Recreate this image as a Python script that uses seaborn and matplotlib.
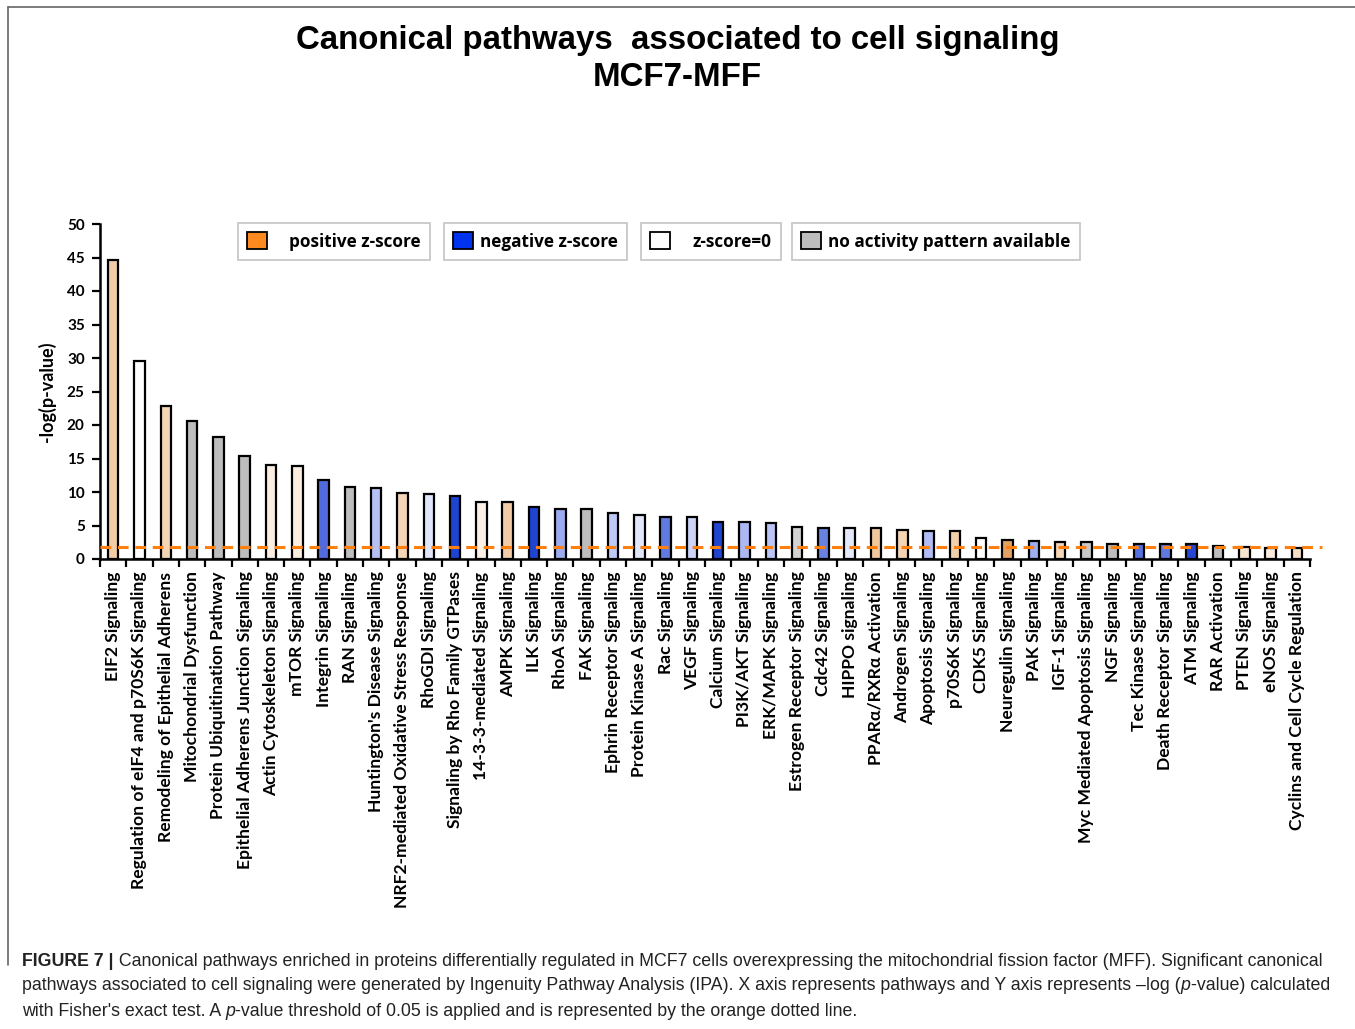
import matplotlib
matplotlib.use("Agg")
import matplotlib.pyplot as plt
from matplotlib.patches import Patch
from matplotlib.lines import Line2D
import numpy as np
import pandas as pd
import seaborn as sns

# Data
pathways = [
    "EIF2 Signaling", "Regulation of eIF4 and p70S6K Signaling",
    "Remodeling of Epithelial Adherens", "Mitochondrial Dysfunction",
    "Protein Ubiquitination Pathway", "Epithelial Adherens Junction Signaling",
    "Actin Cytoskeleton Signaling", "mTOR Signaling", "Integrin Signaling",
    "RAN Signaling", "Huntington's Disease Signaling",
    "NRF2-mediated Oxidative Stress Response", "RhoGDI Signaling",
    "Signaling by Rho Family GTPases", "14-3-3-mediated Signaling",
    "AMPK Signaling", "ILK Signaling", "RhoA Signaling", "FAK Signaling",
    "Ephrin Receptor Signaling", "Protein Kinase A Signaling", "Rac Signaling",
    "VEGF Signaling", "Calcium Signaling", "PI3K/AKT Signaling",
    "ERK/MAPK Signaling", "Estrogen Receptor Signaling", "Cdc42 Signaling",
    "HIPPO signaling", "PPARα/RXRα Activation", "Androgen Signaling",
    "Apoptosis Signaling", "p70S6K Signaling", "CDK5 Signaling",
    "Neuregulin Signaling", "PAK Signaling", "IGF-1 Signaling",
    "Myc Mediated Apoptosis Signaling", "NGF Signaling", "Tec Kinase Signaling",
    "Death Receptor Signaling", "ATM Signaling", "RAR Activation",
    "PTEN Signaling", "eNOS Signaling", "Cyclins and Cell Cycle Regulation",
]
neg_log_p = [
    44.6, 29.6, 22.9, 20.6, 18.2, 15.4, 14.1, 13.9, 11.8, 10.7,
    10.6, 9.9, 9.7, 9.4, 8.5, 8.5, 7.7, 7.5, 7.5, 6.8,
    6.5, 6.3, 6.2, 5.5, 5.5, 5.3, 4.8, 4.7, 4.7, 4.6,
    4.4, 4.2, 4.2, 3.2, 2.9, 2.7, 2.5, 2.5, 2.3, 2.3,
    2.3, 2.2, 2.0, 1.8, 1.7, 1.7,
]
threshold = 1.8

legend_labels = ["positive z-score", "negative z-score", "z-score=0",
                 "no activity pattern available"]

# bar fill colours (shade of z-score as in the picture)
bar_colors = [
    "#FFCC99", "#FFFFFF", "#FFD5AA", "#BDBDBD", "#BDBDBD", "#BDBDBD",
    "#FFEEDD", "#FFEEDD", "#3A5CF5", "#BDBDBD", "#AABBFF", "#FFD5AA",
    "#DDE3FF", "#0033EE", "#FFF0E0", "#FFCC99", "#0033EE", "#8FA3FA",
    "#BDBDBD", "#B5C2FF", "#DDE3FF", "#4C6EF5", "#C5CFFF", "#0033EE",
    "#A0B0FF", "#B0BEFF", "#D3D3D3", "#5577F5", "#E0E6FF", "#FFC88F",
    "#FFD4A8", "#A6B5FF", "#FFD0A0", "#FFFFFF", "#F7A14F", "#90A5FF",
    "#FFD6AD", "#C8C8C8", "#BDBDBD", "#3F63F5", "#4A6CF5", "#0A35F0",
    "#BDBDBD", "#FFE4C8", "#FFECD8", "#FFE0C0",
]
legend_colors = ["#FF8A1F", "#0033EE", "#FFFFFF", "#BDBDBD"]

df = pd.DataFrame({"pathway": pathways, "value": neg_log_p})

sns.set_style("ticks")
plt.rcParams["font.family"] = ["Lato", "DejaVu Sans"]
plt.rcParams["text.color"] = "black"
plt.rcParams["axes.labelcolor"] = "black"
plt.rcParams["xtick.color"] = "black"
plt.rcParams["ytick.color"] = "black"

W, H = 1355, 1029
fig = plt.figure(figsize=(W / 100, H / 100), dpi=100)
ax = fig.add_axes([100 / W, 1 - 559 / H, 1210 / W, 335 / H])

sns.barplot(data=df, x="pathway", y="value", hue="pathway",
            palette=bar_colors, legend=False, width=0.4,
            edgecolor="black", linewidth=1.6, ax=ax)

ax.set_xlim(-0.5, len(pathways) - 0.5)
ax.set_ylim(0, 50)
ax.set_yticks(np.arange(0, 51, 5))
ax.hlines(threshold, -0.5, len(pathways) - 0.05, colors="#FF7F0E",
          linestyles=(0, (3.5, 2.2)), linewidth=2.2, clip_on=False, zorder=5)

for s in ["top", "right"]:
    ax.spines[s].set_visible(False)
for s in ["left", "bottom"]:
    ax.spines[s].set_linewidth(1.8)
    ax.spines[s].set_color("black")

ax.set_xticks(np.arange(len(pathways)))
ax.set_xticklabels(pathways, rotation=90, fontsize=12.6, fontweight="bold")
ax.set_xticks(np.arange(-0.5, len(pathways)), minor=True)
ax.tick_params(axis="x", which="major", length=0, pad=9)
ax.tick_params(axis="x", which="minor", length=6, width=1.6, direction="out")
ax.tick_params(axis="y", length=6, width=1.6, direction="out", pad=5,
               labelsize=11)
for t in ax.get_yticklabels():
    t.set_fontweight("bold")
ax.set_xlabel("")
ax.set_ylabel("-log(p-value)", fontsize=13, fontweight="bold", labelpad=8)

# title
fig.text(0.5, 1 - 41 / H, "Canonical pathways  associated to cell signaling",
         ha="center", va="center", fontsize=23.8, fontweight="bold",
         family="Liberation Sans")
fig.text(0.5, 1 - 77 / H, "MCF7-MFF", ha="center", va="center",
         fontsize=23.8, fontweight="bold", family="Liberation Sans")

# four separate legend boxes
leg_x = [238, 444, 641, 792]
leg_pad = [1.3, 0.4, 1.3, 0.4]
for lab, col, x0, hp in zip(legend_labels, legend_colors, leg_x, leg_pad):
    h = Patch(facecolor=col, edgecolor="black", linewidth=1.3)
    lg = fig.legend([h], [lab], loc="upper left",
                    bbox_to_anchor=(x0 / W, 1 - 223 / H), borderaxespad=0,
                    frameon=True, fancybox=False, handlelength=1.15,
                    handleheight=1.15, handletextpad=hp, borderpad=0.55,
                    prop={"family": "Open Sans", "weight": "bold", "size": 12.3})
    lg.get_frame().set_edgecolor("#BBBBBB")
    lg.get_frame().set_linewidth(1.3)

# outer frame
fig.add_artist(Line2D([8 / W, 8 / W], [1 - 7 / H, 1 - 965 / H],
                      transform=fig.transFigure, color="#666666", lw=1.2))
fig.add_artist(Line2D([8 / W, 1.0], [1 - 7 / H, 1 - 7 / H],
                      transform=fig.transFigure, color="#666666", lw=1.2))

# caption with mixed styles
renderer = fig.canvas.get_renderer()


def rich_line(x_px, y_px, parts, size=12.8):
    x = x_px / W
    for txt, kw in parts:
        t = fig.text(x, 1 - y_px / H, txt, fontsize=size, va="center",
                     ha="left", family="Liberation Sans", color="#222222",
                     **kw)
        x += t.get_window_extent(renderer).width / W


rich_line(22, 961, [
    ("FIGURE 7 |", {"fontweight": "bold"}),
    (" Canonical pathways enriched in proteins differentially regulated in MCF7 cells "
     "overexpressing the mitochondrial fission factor (MFF). Significant canonical", {}),
])
rich_line(22, 986, [
    ("pathways associated to cell signaling were generated by Ingenuity Pathway "
     "Analysis (IPA). X axis represents pathways and Y axis represents \u2013log (", {}),
    ("p", {"fontstyle": "italic"}),
    ("-value) calculated", {}),
])
rich_line(22, 1011, [
    ("with Fisher's exact test. A ", {}),
    ("p", {"fontstyle": "italic"}),
    ("-value threshold of 0.05 is applied and is represented by the orange dotted line.", {}),
])

fig.savefig("out.png", dpi=100)
